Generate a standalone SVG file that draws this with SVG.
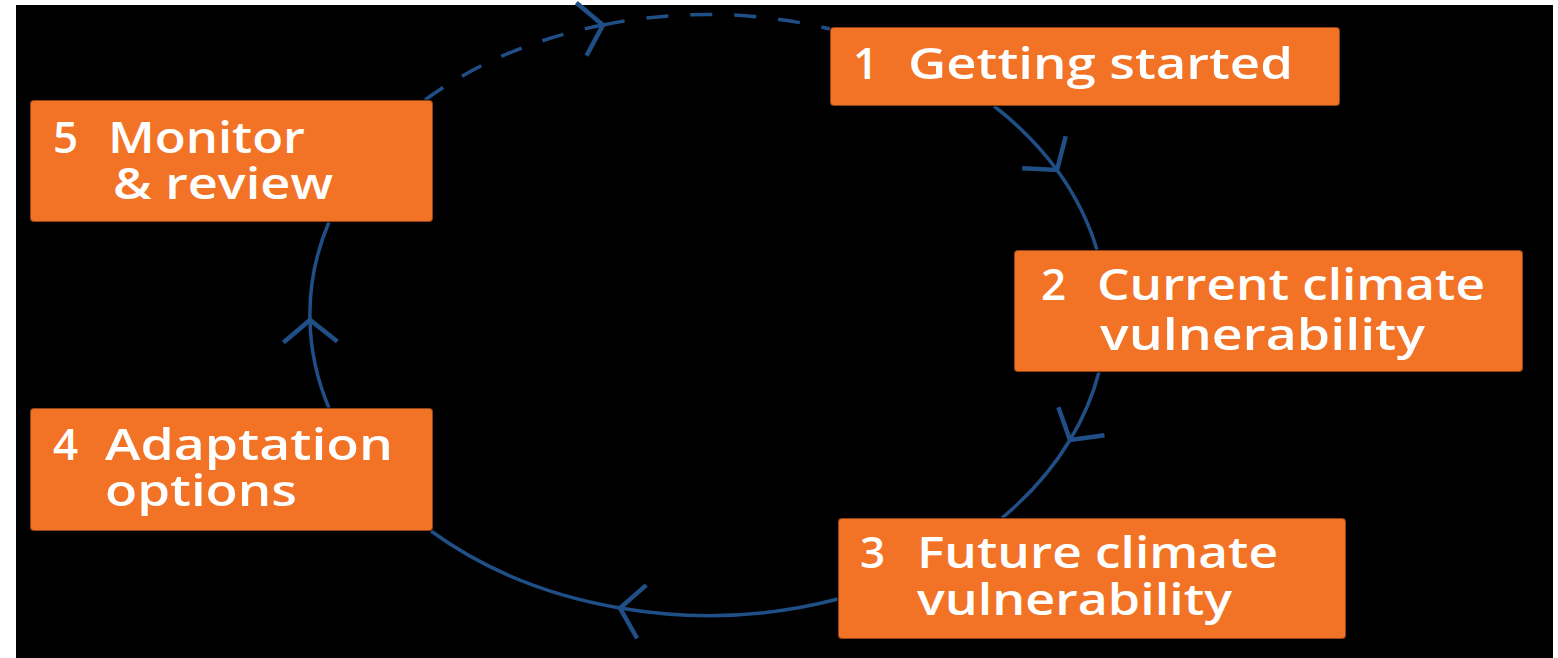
<svg xmlns="http://www.w3.org/2000/svg" width="1558" height="658" viewBox="0 0 1558 658">
  <style>
    .box { fill: #F27326; stroke: #000; stroke-opacity: 0.4; stroke-width: 2; }
    .lbl { font-family: "Open Sans", "Noto Sans", "Liberation Sans", sans-serif; font-weight: 600; font-size: 44px; fill: #FFFFFF; }
    .conn { fill: none; stroke: #1F4F86; stroke-width: 3.5; }
    .dash { stroke-dasharray: 22 22; }
  </style>
  <defs>
    <marker id="chev" markerUnits="userSpaceOnUse" markerWidth="70" markerHeight="70" refX="0" refY="0" viewBox="-35 -35 70 70" orient="auto" overflow="visible">
      <path d="M -22 -27 L 0 0 L -22 27" fill="none" stroke="#1F4F86" stroke-width="4.5" stroke-linejoin="miter"/>
    </marker>
  </defs>
  <rect x="0" y="0" width="1558" height="658" fill="#FFFFFF"/>
  <rect x="16" y="5" width="1537" height="653" fill="#000000"/>

  <g id="connectors">
    <path class="conn dash" d="M 425 100 A 398 301 0 0 1 603 25" marker-end="url(#chev)"/>
    <path class="conn dash" d="M 603 25 A 398 301 0 0 1 830 29"/>
    <path class="conn" d="M 994 106 A 398 301 0 0 1 1057 170" marker-end="url(#chev)"/>
    <path class="conn" d="M 1057 170 A 398 301 0 0 1 1097 250"/>
    <path class="conn" d="M 1099 372 A 398 301 0 0 1 1070 440" marker-end="url(#chev)"/>
    <path class="conn" d="M 1070 440 A 398 301 0 0 1 1002 518"/>
    <path class="conn" d="M 838 599 A 398 301 0 0 1 620 608" marker-end="url(#chev)"/>
    <path class="conn" d="M 620 608 A 398 301 0 0 1 431 531"/>
    <path class="conn" d="M 329 408 A 398 301 0 0 1 310 320" marker-end="url(#chev)"/>
    <path class="conn" d="M 310 320 A 398 301 0 0 1 329 222"/>
  </g>

  <g id="node1">
    <rect class="box" x="830" y="27" width="510" height="79" rx="4"/>
    <text class="lbl"><tspan x="853" y="79">1</tspan><tspan x="908" y="79" textLength="385" lengthAdjust="spacingAndGlyphs">Getting started</tspan></text>
  </g>
  <g id="node2">
    <rect class="box" x="1014" y="250" width="509" height="122" rx="4"/>
    <text class="lbl"><tspan x="1041" y="300">2</tspan><tspan x="1097" y="300" textLength="388" lengthAdjust="spacingAndGlyphs">Current climate</tspan><tspan x="1100" y="350" textLength="325" lengthAdjust="spacingAndGlyphs">vulnerability</tspan></text>
  </g>
  <g id="node3">
    <rect class="box" x="838" y="518" width="508" height="121" rx="4"/>
    <text class="lbl"><tspan x="860" y="568">3</tspan><tspan x="917" y="568" textLength="361" lengthAdjust="spacingAndGlyphs">Future climate</tspan><tspan x="917" y="615" textLength="315" lengthAdjust="spacingAndGlyphs">vulnerability</tspan></text>
  </g>
  <g id="node4">
    <rect class="box" x="30" y="408" width="403" height="123" rx="4"/>
    <text class="lbl"><tspan x="53" y="460">4</tspan><tspan x="105" y="460" textLength="288" lengthAdjust="spacingAndGlyphs">Adaptation</tspan><tspan x="105" y="506" textLength="192" lengthAdjust="spacingAndGlyphs">options</tspan></text>
  </g>
  <g id="node5">
    <rect class="box" x="30" y="100" width="403" height="122" rx="4"/>
    <text class="lbl"><tspan x="53" y="153">5</tspan><tspan x="108" y="153" textLength="197" lengthAdjust="spacingAndGlyphs">Monitor</tspan><tspan x="113" y="199" textLength="220" lengthAdjust="spacingAndGlyphs">&amp; review</tspan></text>
  </g>
</svg>
